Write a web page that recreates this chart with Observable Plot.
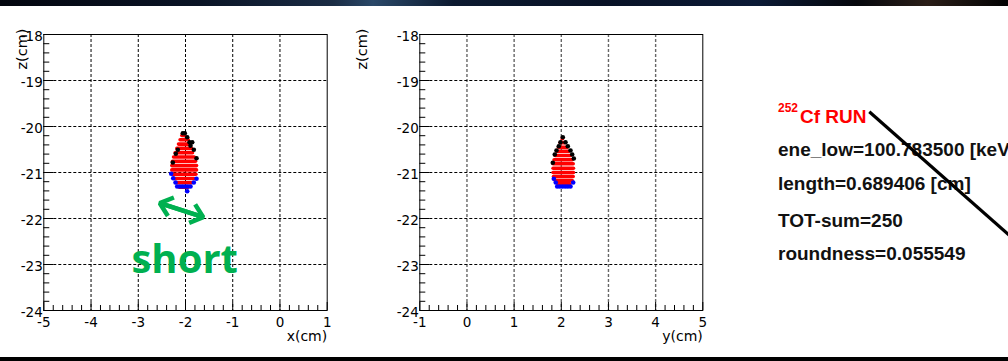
<!DOCTYPE html>
<html><head><meta charset="utf-8">
<script src="https://cdn.jsdelivr.net/npm/d3@7"></script>
<script src="https://cdn.jsdelivr.net/npm/@observablehq/plot@0.6"></script>
<style>
html,body{margin:0;padding:0;background:#fff;width:1008px;height:361px;overflow:hidden;position:relative}
#p1{position:absolute;left:0;top:0}
#p2{position:absolute;left:340px;top:0}
#topband{position:absolute;left:0;top:0;width:1008px;height:6px;background:linear-gradient(90deg,#03060f 0%,#0a1426 20%,#1a2c44 33%,#2a4868 37%,#0c1a30 45%,#081226 60%,#0b1a36 75%,#05070c 85%,#2a1e18 92%,#020203 100%)}
#botband{position:absolute;left:0;top:357px;width:1008px;height:4px;background:#000}
#ann{position:absolute;left:0;top:0;pointer-events:none}
</style>
</head><body>
<div id="p1"></div><div id="p2"></div>
<div id="topband"></div><div id="botband"></div>
<svg id="ann" width="1008" height="361"></svg>
<script>
// ---------- data ----------
const xTicks = [-5, -4, -3, -2, -1, 0, 1];
const yTicks = [-1, 0, 1, 2, 3, 4, 5];
const zTicks = [-18, -19, -20, -21, -22, -23, -24];

// x-z view: red hit rows (z, x from, x to)
const xzRowZ  = [-20.196, -20.289, -20.383, -20.476, -20.570, -20.663, -20.757, -20.850, -20.943, -21.037, -21.130, -21.224, -21.317];
const xzRowX1 = [-2.106, -2.142, -2.176, -2.211, -2.248, -2.281, -2.303, -2.317, -2.317, -2.303, -2.269, -2.211, -2.163];
const xzRowX2 = [-1.964, -1.894, -1.858, -1.824, -1.803, -1.767, -1.739, -1.718, -1.718, -1.731, -1.767, -1.824, -1.894];
// x-z view: black (upper edge) hits
const xzBlackX = [-2.057, -2.015, -1.964, -1.915, -1.858, -1.894, -2.163, -1.824, -2.205, -1.767, -2.269];
const xzBlackZ = [-20.146, -20.146, -20.233, -20.341, -20.341, -20.420, -20.507, -20.507, -20.593, -20.689, -20.783];
// x-z view: blue (lower edge) hits
const xzBlueX = [-2.303, -2.260, -1.767, -2.211, -1.824, -2.176, -2.120, -2.063, -2.006, -1.951, -1.894, -1.964];
const xzBlueZ = [-21.028, -21.124, -21.137, -21.217, -21.217, -21.304, -21.304, -21.304, -21.304, -21.304, -21.304, -21.407];

// y-z view
const yzRowZ  = [-20.267, -20.354, -20.450, -20.537, -20.630, -20.724, -20.811, -20.907, -21.000, -21.087, -21.174, -21.246];
const yzRowY1 = [1.998, 1.947, 1.913, 1.877, 1.841, 1.820, 1.798, 1.798, 1.798, 1.807, 1.841, 1.898];
const yzRowY2 = [2.068, 2.125, 2.174, 2.210, 2.244, 2.280, 2.301, 2.307, 2.307, 2.301, 2.280, 2.231];
const yzBlackY = [2.032, 1.983, 2.089, 1.947, 2.138, 1.898, 2.195, 1.862, 2.231, 2.265, 1.820];
const yzBlackZ = [-20.233, -20.341, -20.341, -20.428, -20.428, -20.522, -20.522, -20.609, -20.609, -20.696, -20.789];
const yzBlueY = [1.841, 1.883, 2.252, 1.913, 1.968, 2.025, 2.082, 2.138, 2.195];
const yzBlueZ = [-21.137, -21.217, -21.217, -21.304, -21.304, -21.304, -21.304, -21.304, -21.304];

// annotation in x-z view
const arrowEndsX = [-2.544, -1.625];
const arrowEndsZ = [-21.667, -21.972];
const shortLabel = {text: "short", x: -2.017, z: -22.904};

const infoTitle = {sup: "252", main: "Cf RUN"};
const infoLines = ["ene_low=100.783500 [keV]", "length=0.689406 [cm]", "TOT-sum=250", "roundness=0.055549"];

// ---------- drawing ----------
const FONT = "DejaVu Sans";
function panel({xDomain, xTicksArr, rowZ, rowA, rowB, blackH, blackZ, blueH, blueZ, width, marginLeft, marginRight, vGrid, xTitle, extra}) {
  const height = 357, marginTop = 34, marginBottom = 47;
  const pxX = (width - marginLeft - marginRight) / (xDomain[1] - xDomain[0]);
  const pxZ = (height - marginTop - marginBottom) / 6;
  const rows = rowZ.map((z, i) => ({z, a: rowA[i], b: rowB[i]}));
  const black = blackH.map((h, i) => ({h, z: blackZ[i]}));
  const blue = blueH.map((h, i) => ({h, z: blueZ[i]}));
  const minorX = d3.range(xDomain[0], xDomain[1] + 1e-6, 0.2).map(v => +v.toFixed(3));
  const minorZ = d3.range(-24, -18 + 1e-6, 0.2).map(v => +v.toFixed(3));
  const innerX = xTicksArr.slice(1, -1);
  const innerZ = zTicks.slice(1, -1);
  return Plot.plot({
    width, height, marginTop, marginBottom, marginLeft, marginRight,
    style: {fontFamily: FONT, fontSize: "13.5px", background: "transparent", color: "black", overflow: "visible"},
    x: {domain: xDomain},
    y: {domain: [-24, -18]},
    marks: [
      Plot.ruleX(innerX, {x: d => d, stroke: vGrid, strokeWidth: vGrid === "black" ? 1 : 1.4, strokeDasharray: "3,2"}),
      Plot.ruleY(innerZ, {y: d => d, stroke: "black", strokeWidth: 1, strokeDasharray: "3,2"}),
      // inward ticks
      Plot.ruleX(minorX, {x: d => d, y1: () => -24, y2: d => -24 + (xTicksArr.includes(d) ? 8 : 5) / pxZ, stroke: "black", strokeWidth: 1}),
      Plot.ruleY(minorZ, {y: d => d, x1: () => xDomain[0], x2: d => xDomain[0] + (zTicks.includes(d) ? 10 : 6) / pxX, stroke: "black", strokeWidth: 1}),
      Plot.frame({stroke: "black", strokeWidth: 1}),
      Plot.axisX({ticks: xTicksArr, tickSize: 0, tickPadding: 7, tickFormat: d => String(d), label: null, fontSize: 13.5}),
      Plot.axisY({ticks: zTicks, tickSize: 0, tickPadding: 1, tickFormat: d => String(d), label: null, fontSize: 13.5, dy: 2}),
      Plot.text([xTitle], {frameAnchor: "bottom-right", text: d => d, textAnchor: "end", dy: 30, fontSize: 14}),
      Plot.text(["z(cm)"], {frameAnchor: "top-left", text: d => d, textAnchor: "end", rotate: -90, dx: -(marginLeft - 16), dy: -6, fontSize: 14.5}),
      // hits
      Plot.ruleY(rows, {y: "z", x1: "a", x2: "b", stroke: "#ff0000", strokeWidth: 3.6, strokeLinecap: "round", insetLeft: 1.8, insetRight: 1.8}),
      Plot.dot(black, {x: "h", y: "z", r: 2.3, fill: "black", stroke: "none"}),
      Plot.dot(blue, {x: "h", y: "z", r: 2.3, fill: "#0000ff", stroke: "none"}),
      ...(extra || [])
    ]
  });
}

// double-headed arrow: two arrows spanning the same segment in opposite directions
const arrowData = [
  {x1: arrowEndsX[0], y1: arrowEndsZ[0], x2: arrowEndsX[1], y2: arrowEndsZ[1]},
  {x1: arrowEndsX[1], y1: arrowEndsZ[1], x2: arrowEndsX[0], y2: arrowEndsZ[0]}
];
const green = "#00b050";

const p1 = panel({
  xDomain: [-5, 1], xTicksArr: xTicks,
  rowZ: xzRowZ, rowA: xzRowX1, rowB: xzRowX2,
  blackH: xzBlackX, blackZ: xzBlackZ, blueH: xzBlueX, blueZ: xzBlueZ,
  width: 340, marginLeft: 43.3, marginRight: 13.3, vGrid: "black", xTitle: "x(cm)",
  extra: [
    Plot.arrow(arrowData, {x1: "x1", y1: "y1", x2: "x2", y2: "y2", stroke: green, strokeWidth: 4.5, headLength: 12, headAngle: 80, strokeLinecap: "butt", strokeLinejoin: "miter"}),
    Plot.text([shortLabel], {x: "x", y: "z", text: "text", fill: green, fontSize: 40, fontWeight: "bold", fontFamily: "Open Sans", lineAnchor: "middle"})
  ]
});
const p2 = panel({
  xDomain: [-1, 5], xTicksArr: yTicks,
  rowZ: yzRowZ, rowA: yzRowY1, rowB: yzRowY2,
  blackH: yzBlackY, blackZ: yzBlackZ, blueH: yzBlueY, blueZ: yzBlueZ,
  width: 380, marginLeft: 79.3, marginRight: 17.7, vGrid: "#666", xTitle: "y(cm)"
});
document.getElementById("p1").appendChild(p1);
document.getElementById("p2").appendChild(p2);

// info annotation
const ann = d3.select("#ann");
const tf = "'Liberation Sans', Arial, sans-serif";
ann.append("text").attr("x", 778).attr("y", 112).attr("font-family", tf).attr("font-size", 12).attr("font-weight", "bold").attr("fill", "#ff0000").text(infoTitle.sup);
ann.append("text").attr("x", 800).attr("y", 123).attr("font-family", tf).attr("font-size", 19).attr("font-weight", "bold").attr("fill", "#ff0000").text(infoTitle.main);
const baselines = [156, 190, 227, 260];
infoLines.forEach((t, i) => {
  ann.append("text").attr("x", 778).attr("y", baselines[i]).attr("font-family", tf).attr("font-size", 19).attr("font-weight", "bold").attr("fill", "#111").text(t);
});
ann.append("line").attr("x1", 869.3).attr("y1", 111.7).attr("x2", 1020).attr("y2", 244.6).attr("stroke", "black").attr("stroke-width", 3.2);
</script>
</body></html>
